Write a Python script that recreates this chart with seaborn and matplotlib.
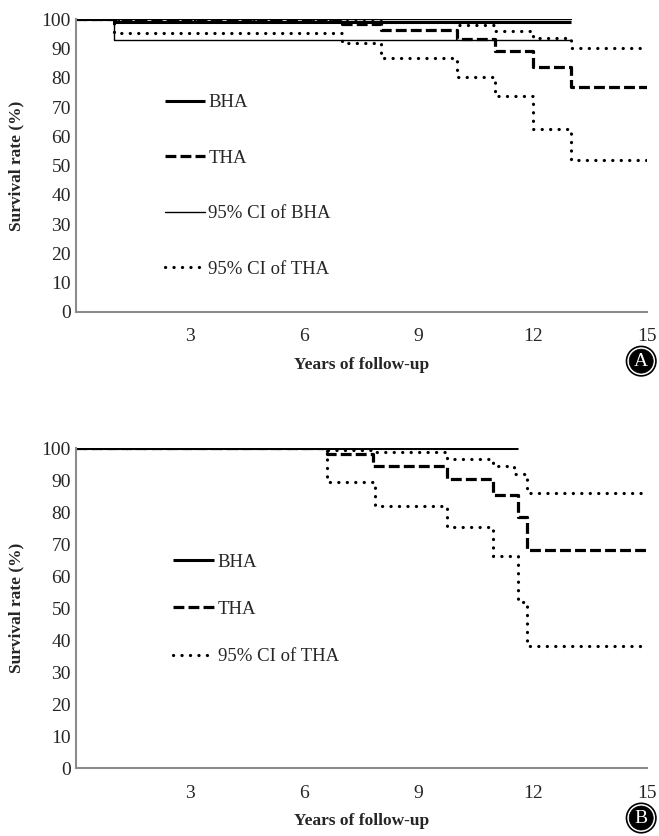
import matplotlib
matplotlib.use("Agg")
import matplotlib.pyplot as plt
import seaborn as sns

# Panel A - step curves (years, survival %)
a_bha_x = [0, 1, 13]
a_bha_y = [100, 99, 99]
a_bha_lo_x = [0, 1, 13]
a_bha_lo_y = [100, 93, 93]
a_bha_hi_x = [0, 13]
a_bha_hi_y = [100, 100]
a_tha_x = [0, 7, 8, 10, 11, 12, 13, 15]
a_tha_y = [100, 98.5, 96.4, 93.2, 89.3, 83.7, 76.8, 76.8]
a_tha_lo_x = [0, 1, 7, 8, 10, 11, 12, 13, 15]
a_tha_lo_y = [100, 95.3, 91.8, 86.6, 80.3, 73.6, 62.6, 51.8, 51.8]
a_tha_hi_x = [0, 8, 10, 11, 12, 13, 15]
a_tha_hi_y = [100, 98.9, 98, 96, 93.7, 90, 90]

# Panel B
b_bha_x = [0, 11.6]
b_bha_y = [100, 100]
b_tha_x = [0, 6.6, 7.8, 9.75, 10.95, 11.6, 11.85, 15]
b_tha_y = [100, 98.2, 94.4, 90.3, 85.5, 78.5, 68.2, 68.2]
b_tha_hi_x = [0, 6.6, 7.8, 9.75, 10.95, 11.5, 11.85, 15]
b_tha_hi_y = [100, 99.4, 98.8, 96.7, 94.5, 92, 86, 86]
b_tha_lo_x = [0, 6.6, 7.85, 9.75, 10.95, 11.6, 11.85, 15]
b_tha_lo_y = [100, 89.3, 82, 75.3, 66.3, 52, 38.2, 38.2]

x_ticks = [3, 6, 9, 12, 15]
y_ticks = list(range(0, 101, 10))

sns.set_style("white")
plt.rcParams["font.family"] = ["Liberation Serif", "DejaVu Serif"]

fig = plt.figure(figsize=(6.59, 8.36), dpi=100)
axA = fig.add_axes([0.115, 0.627, 0.867, 0.350])
axB = fig.add_axes([0.115, 0.081, 0.867, 0.383])

thick = dict(color="black", lw=2.2, solid_capstyle="butt")
thin = dict(color="black", lw=1.0)
dashed = dict(color="black", lw=2.3, linestyle=(0, (3.4, 1.3)))
dotted = dict(color="black", lw=2.3, linestyle=(0, (0.05, 2.6)), dash_capstyle="round")


def step(ax, x, y, label, style):
    sns.lineplot(x=x, y=y, ax=ax, drawstyle="steps-post", errorbar=None,
                 label=label, legend=False, **style)


step(axA, a_bha_hi_x, a_bha_hi_y, "_hi", thin)
step(axA, a_bha_lo_x, a_bha_lo_y, "95% CI of BHA", thin)
step(axA, a_tha_hi_x, a_tha_hi_y, "_hi2", dotted)
step(axA, a_tha_lo_x, a_tha_lo_y, "95% CI of THA", dotted)
step(axA, a_tha_x, a_tha_y, "THA", dashed)
step(axA, a_bha_x, a_bha_y, "BHA", thick)

step(axB, b_tha_hi_x, b_tha_hi_y, "_hi", dotted)
step(axB, b_tha_lo_x, b_tha_lo_y, "95% CI of THA", dotted)
step(axB, b_tha_x, b_tha_y, "THA", dashed)
step(axB, b_bha_x, b_bha_y, "BHA", thick)

legend_specs = [
    (axA, ["BHA", "THA", "95% CI of BHA", "95% CI of THA"], 2.35, 43, 2.05, 2.1),
    (axB, ["BHA", "THA", "95% CI of THA"], 2.55, 49.6, 1.6, 2.2),
]
for ax, order, lx, ly, spacing, hlen in legend_specs:
    handles, labels = ax.get_legend_handles_labels()
    lookup = dict(zip(labels, handles))
    ax.legend([lookup[k] for k in order], order, loc="center left",
              bbox_to_anchor=(lx, ly), bbox_transform=ax.transData,
              frameon=False, fontsize=13.5, handlelength=hlen,
              handletextpad=0.2, labelspacing=spacing, borderpad=0,
              borderaxespad=0)

for ax in (axA, axB):
    ax.set_xlim(0, 15)
    ax.set_ylim(0, 100)
    ax.set_xticks(x_ticks)
    ax.set_yticks(y_ticks)
    ax.tick_params(axis="both", length=0, labelsize=14)
    ax.tick_params(axis="x", pad=12)
    ax.tick_params(axis="y", pad=3.5)
    for side in ("top", "right"):
        ax.spines[side].set_visible(False)
    for side in ("left", "bottom"):
        ax.spines[side].set_color("#8c8c8c")
        ax.spines[side].set_linewidth(1.5)
    ax.set_xlabel("Years of follow-up", fontsize=12.5, fontweight="bold", labelpad=8)
    ax.set_ylabel("Survival rate (%)", fontsize=12.5, fontweight="bold", labelpad=12)

for tag, yy in (("A", 0.568), ("B", 0.0215)):
    fig.text(0.973, yy, tag, ha="center", va="center", fontsize=14, color="white",
             bbox=dict(boxstyle="circle,pad=0.32", fc="white", ec="black", lw=1.2))
    fig.text(0.973, yy, tag, ha="center", va="center", fontsize=14, color="white",
             bbox=dict(boxstyle="circle,pad=0.18", fc="black", ec="black", lw=0.5))

fig.savefig("out.png", dpi=100)
